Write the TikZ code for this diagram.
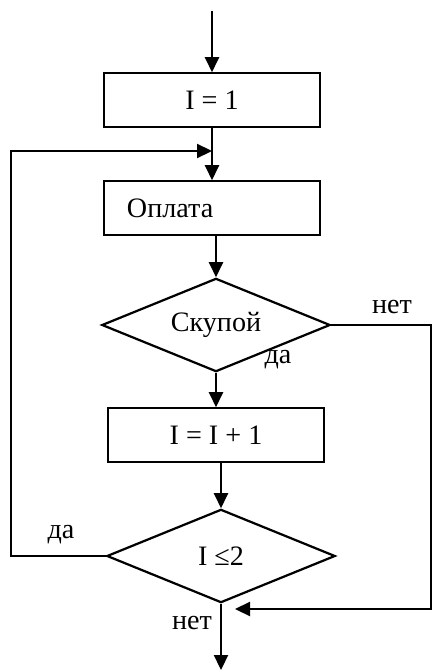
\documentclass[tikz,border=0pt]{standalone}
\usepackage{fontspec}
\setmainfont{Liberation Serif}
\usetikzlibrary{arrows.meta,shapes.geometric}

\begin{document}
\begin{tikzpicture}[x=0.03cm, y=-0.03cm,
        >={Triangle[length=0.45cm, width=0.42cm]},
        line width=1.9pt, font=\fontsize{24}{28}\selectfont,
        block/.style={draw, minimum width=6.5cm, minimum height=1.6cm, inner sep=0pt},
        decision/.style={draw, diamond, aspect=2.45, minimum width=6.85cm,
            minimum height=2.8cm, inner sep=0pt}]
        \useasboundingbox (0,0) rectangle (433,671);

        \coordinate (in)      at (212, 11);
        \coordinate (merge)   at (212,151);
        \coordinate (loopTop) at ( 11,151);
        \coordinate (rightB)  at (431,609);
        \coordinate (join)    at (235,609);
        \coordinate (out)     at (221,670);

        \node[block] (init) at (212,100) {I = 1};
        \node[block, text width=5.1cm, inner xsep=0.675cm, align=left] (pay) at (212,208) {Оплата};
        \node[decision] (stingy) at (216,325) {Скупой};
        \node[block] (incr) at (216,435) {I = I + 1};
        \node[decision] (check) at (221,556) {I ≤2};

        \draw[->] (in) -- (init);
        \draw[->] (init) -- (pay);
        \draw[->] (pay.south -| stingy.north) -- (stingy.north);
        \draw[->] (stingy) -- (incr);
        \draw[->] (incr.south -| check.north) -- (check.north);
        \draw[->] (check) -- (out);

        \draw[->] (check.west) -| (loopTop) -- (merge);
        \draw[->] (stingy.east) -| (rightB) -- (join);

        \node at (392,307) {нет};
        \node at (278,360) {да};
        \node at ( 61,535) {да};
        \node at (192,623) {нет};
    \end{tikzpicture}
\end{document}
